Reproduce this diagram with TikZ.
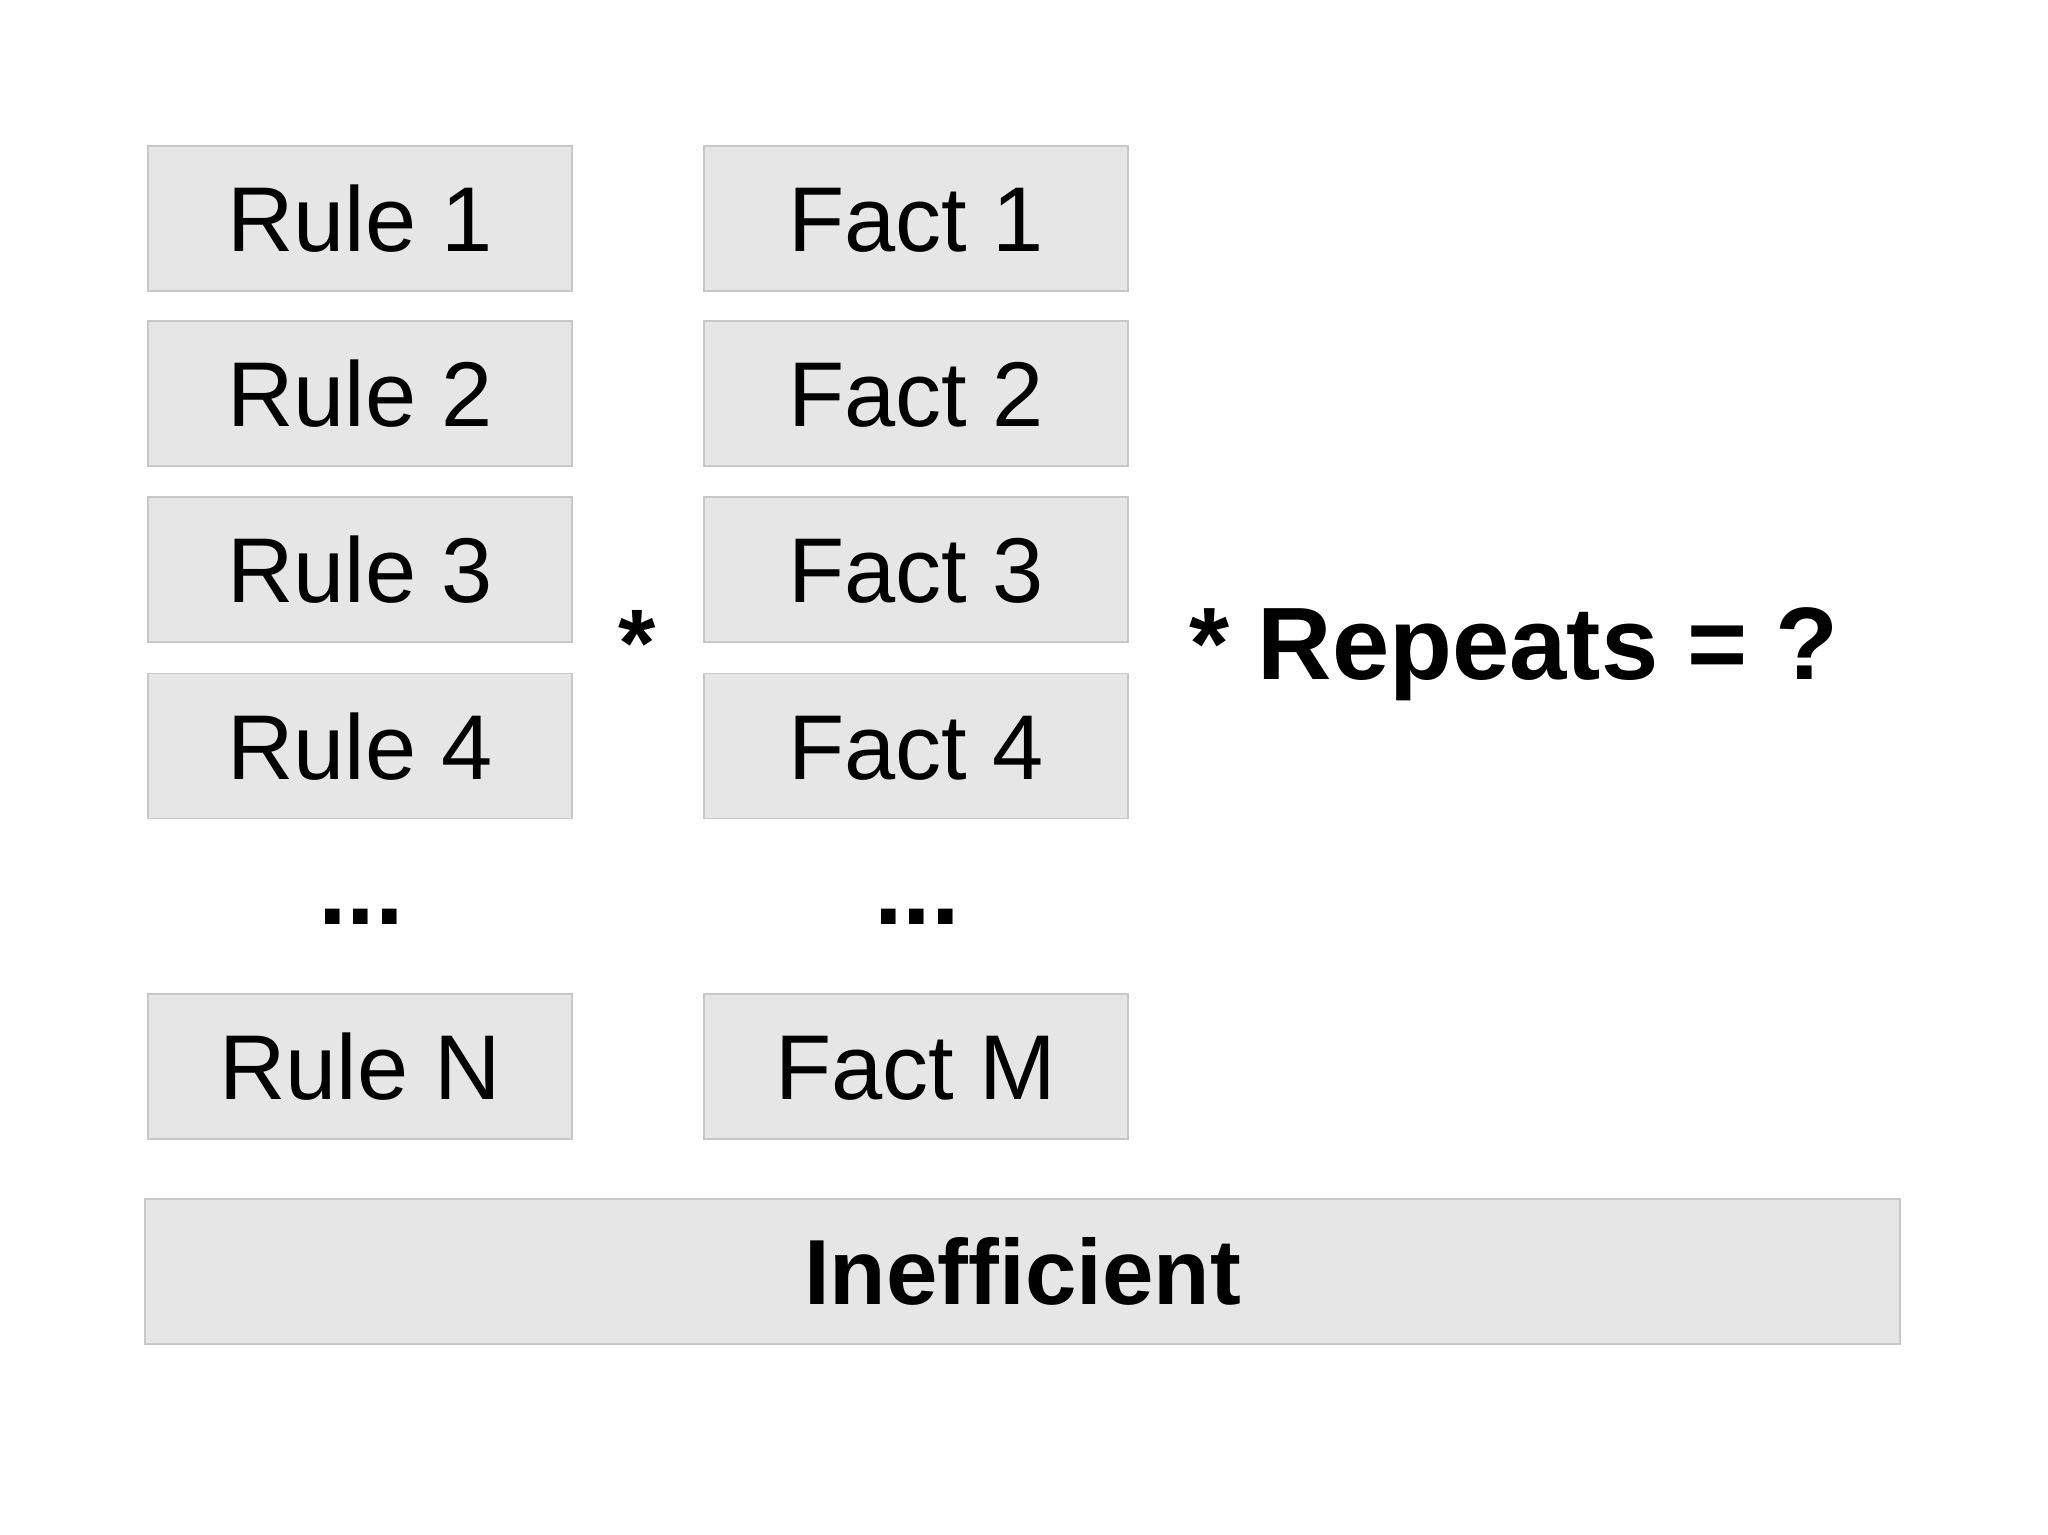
\documentclass[tikz,border=0pt]{standalone}
\usepackage{fontspec}
\setmainfont{Liberation Sans}[Ligatures={NoCommon}]
\definecolor{boxfill}{HTML}{E6E6E6}
\definecolor{boxline}{HTML}{C8C8C8}
\begin{document}
\begin{tikzpicture}[x=1bp,y=-1bp,
  cell/.style={draw=boxline, fill=boxfill, line width=1.6bp, inner sep=0pt,
    minimum width=424bp, minimum height=145bp,
    font=\fontsize{92bp}{110bp}\selectfont, text height=66bp, text depth=0bp},
  bigtxt/.style={inner sep=0pt, font=\fontsize{103bp}{120bp}\selectfont\bfseries, anchor=base}
]
\useasboundingbox (0,0) rectangle (2048,1535);
\fill[white] (0,0) rectangle (2048,1535);
% Rules
\node[cell] (r1) at (360,218.5) {Rule 1};
\node[cell] (r2) at (360,393.5) {Rule 2};
\node[cell] (r3) at (360,569.5) {Rule 3};
\node[cell] (r4) at (360,746) {Rule 4};
\node[cell] (rn) at (360,1066.5) {Rule N};
% Facts
\node[cell] (f1) at (916,218.5) {Fact 1};
\node[cell] (f2) at (916,393.5) {Fact 2};
\node[cell] (f3) at (916,569.5) {Fact 3};
\node[cell] (f4) at (916,746) {Fact 4};
\node[cell] (fm) at (916,1066.5) {Fact M};
% dots
\node[bigtxt] (rdots) at (361,924) {...};
\node[bigtxt] (fdots) at (917,924) {...};
% star
\node[bigtxt, font=\fontsize{96bp}{110bp}\selectfont\bfseries] (star) at (637,676) {*};
\node[bigtxt, anchor=base west] (rep) at (1189,679) {* Repeats = ?};
% inefficient
\node[cell, minimum width=1755bp, font=\fontsize{92.5bp}{110bp}\selectfont\bfseries, text height=66bp] (ineff) at (1022.5,1271.5) {Inefficient};
\end{tikzpicture}
\end{document}
